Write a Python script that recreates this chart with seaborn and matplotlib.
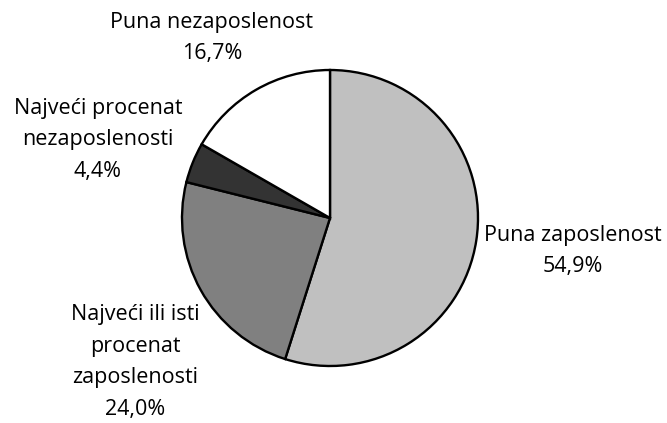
import matplotlib
matplotlib.use("Agg")
import matplotlib.pyplot as plt
import seaborn as sns

# Data
labels = ["Puna zaposlenost", "Najveći ili isti\nprocenat\nzaposlenosti",
          "Najveći procenat\nnezaposlenosti", "Puna nezaposlenost"]
values = [54.9, 24.0, 4.4, 16.7]
colors = ["#c0c0c0", "#808080", "#333333", "#ffffff"]

sns.set_style("white")
plt.rcParams['font.family'] = ['Open Sans', 'DejaVu Sans']

fig = plt.figure(figsize=(6.67, 4.23), dpi=100)
# pie centre at about (330, 218) px, radius ~148 px
cx, cy, r = 330, 218, 148
ax = fig.add_axes([(cx - r) / 667, 1 - (cy + r) / 423, 2 * r / 667, 2 * r / 423])

wedges, _ = ax.pie(values, colors=colors, startangle=90, counterclock=False,
                   radius=1, wedgeprops=dict(edgecolor="black", linewidth=1.7))
ax.set_xlim(-1, 1)
ax.set_ylim(-1, 1)
ax.set_aspect("equal")
ax.axis("off")

# label positions in pixels (centre of text block)
label_pos = [(573, 251), (135, 362), (98, 140), (212, 38)]
for lab, val, (px, py) in zip(labels, values, label_pos):
    txt = f"{lab}\n{val:.1f}%".replace(".", ",")
    ax.text((px - cx) / r, (cy - py) / r, txt, ha="center", va="center",
            fontsize=15.5, linespacing=1.65, color="black", clip_on=False)

fig.savefig("out.png", dpi=100)
